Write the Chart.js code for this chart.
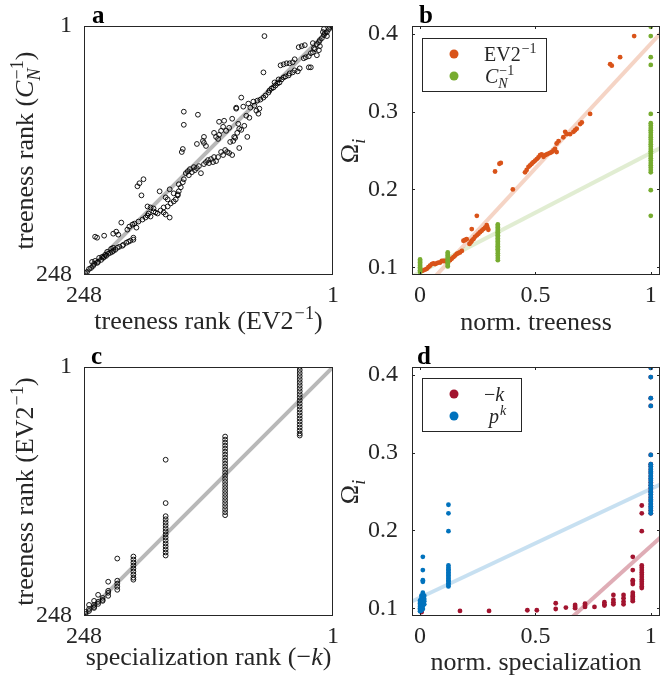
<!DOCTYPE html>
<html>
<head>
<meta charset="utf-8">
<script src="https://cdn.jsdelivr.net/npm/chart.js@4.4.1/dist/chart.umd.min.js"></script>
<style>
  body { margin: 0; background: #fff; }
  #fig { position: relative; width: 670px; height: 677px; }
  #fig canvas { position: absolute; }
</style>
</head>
<body>
<div id="fig">
  <canvas id="chartA" width="340" height="338" style="left:0;top:0"></canvas>
  <canvas id="chartB" width="330" height="338" style="left:340px;top:0"></canvas>
  <canvas id="chartC" width="340" height="337" style="left:0;top:340px"></canvas>
  <canvas id="chartD" width="330" height="337" style="left:340px;top:340px"></canvas>
</div>
<script>
// ---------------------------------------------------------------------------
// Data
// ---------------------------------------------------------------------------

// a: treeness rank EV2^-1 (x) vs treeness rank C_N^-1 (y)
const rankTicks = [248, 1];
const diagRanks = [248, 1];
const evRankA = [
  247,245,243,241,239,238,235,234,231,229,228,226,224,222,220,219,217,215,213,210,209,206,204,202,199,
  240,237,233,230,227,225,221,219,
  237,235,228,219,216,214,211,205,203,200,198,196,199,
  194,190,187,185,184,182,179,177,175,172,169,167,163,169,165,162,159,157,155,154,152,150,149,
  195,193,189,191,185,182,179,173,167,165,163,159,155,154,
  147,145,144,143,141,139,138,136,134,132,129,127,125,124,122,120,119,117,115,112,110,108,106,104,101,94,
  150,151,149,149,135,136,130,129,127,129,119,117,115,114,114,110,109,112,107,104,101,99,97,95,94,89,86,
  103,100,98,96,92,
  69,70,92,97,90,85,83,80,79,77,75,74,87,84,76,73,70,68,65,64,62,60,58,56,54,52,50,48,45,44,41,39,36,34,
  59,55,53,50,47,44,41,39,35,32,29,30,28,25,23,21,20,19,17,15,14,12,10,9,7,5,4,2,11,10,21,25,23,17,15,14,7,1
];
const cnRankA = [
  246,245,242,241,239,237,236,235,233,231,230,229,227,226,225,224,223,221,220,219,218,216,215,214,213,
  235,234,231,230,228,225,222,221,
  210,211,209,207,205,208,196,203,200,198,197,201,211,
  195,193,191,189,187,190,185,186,187,184,186,188,191,181,180,177,175,173,168,165,161,156,153,
  160,157,153,169,180,181,182,165,171,173,163,167,169,158,
  147,145,149,143,146,141,144,142,140,147,138,136,134,137,133,136,131,135,131,126,129,124,126,127,129,122,
  123,126,86,99,89,118,115,117,120,111,107,111,113,109,96,101,95,105,105,102,93,111,83,98,103,100,111,
  116,115,112,107,104,
  11,47,72,82,81,78,82,76,80,85,88,83,90,92,75,74,72,70,67,65,63,62,60,58,57,54,52,51,50,48,47,45,46,43,
  57,54,40,39,38,38,37,34,22,21,20,33,32,31,28,27,23,24,19,17,15,13,10,8,7,4,2,1,7,4,18,42,42,30,25,21,11,1
];

// b: normalised treeness vs Omega_i
const normTicks = [0, 0.5, 1];
const omegaTicks = [0.1, 0.2, 0.3, 0.4];
const evTreeness = [
  0.007,0.014,0.022,0.029,0.036,0.043,0.051,0.058,0.065,0.072,0.079,0.087,0.094,0.101,0.108,0.116,0.123,0.130,0.137,0.145,
  0.152,0.159,0.166,0.173,0.181,0.188,0.195,0.202,0.214,0.220,0.224,0.231,0.238,0.246,0.253,0.260,0.267,0.275,0.282,0.289,
  0.292,0.296,0.224,0.246,0.325,0.344,0.350,0.402,
  0.455,0.462,0.470,0.477,0.484,0.491,0.499,0.506,0.513,0.520,0.527,0.535,0.542,0.549,0.556,0.564,0.571,0.578,0.585,0.592,
  0.600,0.592,0.621,0.629,0.636,0.650,0.665,0.672,0.679,0.694,0.701,0.737,0.824,0.831,0.867,0.928
];
const evOmega = [
  0.095,0.096,0.097,0.098,0.100,0.102,0.104,0.105,0.104,0.105,0.106,0.106,0.108,0.108,0.108,0.108,0.108,0.109,0.111,0.113,
  0.115,0.117,0.118,0.119,0.121,0.134,0.135,0.136,0.130,0.132,0.134,0.136,0.139,0.141,0.143,0.145,0.147,0.149,0.151,0.154,
  0.151,0.148,0.149,0.166,0.223,0.233,0.234,0.200,
  0.222,0.225,0.229,0.231,0.233,0.235,0.237,0.239,0.241,0.244,0.245,0.242,0.244,0.245,0.246,0.247,0.248,0.250,0.252,0.259,
  0.262,0.248,0.267,0.274,0.271,0.271,0.274,0.276,0.278,0.284,0.286,0.297,0.361,0.359,0.370,0.397
];
const cnLevels = [0, 0.12, 0.337, 1];
const cnOmegaAtLevel = [
  [0.094,0.096,0.098,0.100,0.102,0.104,0.106,0.108,0.110],
  [0.101,0.103,0.105,0.107,0.109,0.111,0.113,0.115,0.117,0.119],
  [0.109,0.112,0.115,0.118,0.121,0.123,0.125,0.127,0.129,0.131,0.133,0.135,0.137,0.139,0.141,0.143,0.145,0.147,0.149,0.151,0.153,0.155],
  [0.166,0.199,0.222,0.225,0.228,0.231,0.234,0.237,0.240,0.243,0.246,0.249,0.252,0.255,0.258,0.261,0.264,0.267,0.270,0.273,0.276,0.279,0.282,0.285,0.297,0.360,0.370,0.397,0.409]
];
const evFitX = [0.065, 1.043];
const evFitY = [0.088, 0.401];
const cnFitX = [-0.035, 1.043];
const cnFitY = [0.088, 0.2534];

// c: specialization rank (-k) vs treeness rank EV2^-1
const specColumnRank = [34, 108, 167, 199, 215, 224, 229.5, 234, 238, 243, 246.5, 248];
const evRankByColumn = [
  [1,4,7,10,13,16,19,22,25,28,31,34,37,40,43,46,49,52,55,58,61,64,67,69],
  [70,73,76,79,82,85,88,91,94,97,100,103,106,109,112,115,118,121,124,127,130,133,136,139,142,145,148],
  [93,136,149,152,155,158,161,164,167,170,173,176,179,182,185,188],
  [189,192,195,198,201,204,207,210,212],
  [191,213,216,219,222],
  [214,223,225,228],
  [230,232,233],
  [227,234,236],
  [233,237,239,240],
  [237,241,243],
  [244,246],
  [248]
];

// d: normalised specialization vs Omega_i
const negKLevels = [0.007,0.173,0.299,0.465,0.506,0.588,0.632,0.672,0.715,0.756,0.799,0.838,0.882,0.922,0.961,1];
const negKOmegaAtLevel = [
  [0.095],[0.0965],[0.0965],[0.0974],[0.0974],[0.099,0.1064],[0.1008],[0.100,0.102,0.1042],[0.1017,0.104,0.106],[0.1017],
  [0.1034,0.105,0.1077],[0.1051,0.1077,0.111,0.1171],[0.1051,0.1085,0.1128,0.1171],
  [0.109,0.111,0.113,0.115,0.117,0.120,0.131,0.134,0.136,0.149,0.166],
  [0.126,0.128,0.131,0.134,0.137,0.140,0.143,0.146,0.149,0.152,0.155,0.199,0.222,0.232],
  [0.222,0.226,0.230,0.234,0.238,0.242,0.246,0.250,0.254,0.258,0.262,0.266,0.270,0.274,0.278,0.282,0.285,0.297,0.360,0.370,0.397,0.409]
];
const pkLevels = [0, 0.006, 0.012, 0.018, 0.123, 1];
const pkOmegaAtLevel = [
  [0.096,0.098,0.100,0.102,0.104,0.106,0.108,0.110],
  [0.097,0.101,0.105,0.109,0.113,0.116],
  [0.099,0.103,0.107,0.111,0.115,0.118,0.120,0.134,0.136,0.149,0.166],
  [0.105,0.109,0.112,0.116],
  [0.128,0.130,0.132,0.134,0.136,0.138,0.140,0.142,0.144,0.146,0.148,0.150,0.152,0.155,0.199,0.222,0.233],
  [0.222,0.225,0.228,0.231,0.234,0.237,0.240,0.243,0.246,0.249,0.252,0.255,0.258,0.261,0.264,0.267,0.270,0.273,0.276,0.279,0.282,0.285,0.297,0.360,0.370,0.397,0.409]
];
const negKFitX = [0.657, 1.043];
const negKFitY = [0.088, 0.1913];
const pkFitX = [-0.043, 1.043];
const pkFitY = [0.1077, 0.2594];

// ---------------------------------------------------------------------------
// Styling
// ---------------------------------------------------------------------------

const FONT   = '"Liberation Serif", "Times New Roman", serif';
const INK    = '#262626';
const ORANGE = '#D95319';
const GREEN  = '#77AC30';
const RED    = '#A2142F';
const BLUE   = '#0072BD';
const TICK_SIZE  = 24;
const TITLE_SIZE = 26;
const LEGEND_SIZE = 20;

const zip = (xs, ys) => xs.map((x, i) => ({ x, y: ys[i] }));
const columns = (levels, groups) => levels.flatMap((x, i) => groups[i].map(y => ({ x, y })));

// ---------------------------------------------------------------------------
// Text with super/subscripts
// ---------------------------------------------------------------------------

function runWidth(ctx, r, size) {
  ctx.font = (r.it ? 'italic ' : '') + size + 'px ' + FONT;
  const w = ctx.measureText(r.t || '').width;
  let s = 0;
  if (r.sup) { ctx.font = (r.supIt ? 'italic ' : '') + size * 0.7 + 'px ' + FONT; s = ctx.measureText(r.sup).width; }
  if (r.sub) { ctx.font = (r.subIt ? 'italic ' : '') + size * 0.7 + 'px ' + FONT; s = Math.max(s, ctx.measureText(r.sub).width); }
  return w + s + (r.sup || r.sub ? 1 : 0);
}

function drawRuns(ctx, runs, x, baseline, size, align) {
  ctx.save();
  ctx.fillStyle = INK;
  ctx.textAlign = 'left';
  ctx.textBaseline = 'alphabetic';
  const total = runs.reduce((s, r) => s + runWidth(ctx, r, size), 0);
  let cx = align === 'left' ? x : x - total / 2;
  runs.forEach(r => {
    ctx.font = (r.it ? 'italic ' : '') + size + 'px ' + FONT;
    ctx.fillText(r.t || '', cx, baseline);
    cx += ctx.measureText(r.t || '').width;
    let s = 0;
    if (r.sup) {
      ctx.font = (r.supIt ? 'italic ' : '') + size * 0.7 + 'px ' + FONT;
      ctx.fillText(r.sup, cx + 1, baseline - size * 0.4);
      s = ctx.measureText(r.sup).width + 1;
    }
    if (r.sub) {
      ctx.font = (r.subIt ? 'italic ' : '') + size * 0.7 + 'px ' + FONT;
      ctx.fillText(r.sub, cx, baseline + size * 0.25);
      s = Math.max(s, ctx.measureText(r.sub).width + 1);
    }
    cx += s;
  });
  ctx.restore();
}

// ---------------------------------------------------------------------------
// MATLAB-ish decorations: box, inward ticks, titles, legend, panel letter
// ---------------------------------------------------------------------------

const decorPlugin = {
  id: 'decor',
  afterDraw(chart, args, o) {
    const { ctx, chartArea: a } = chart;
    ctx.save();
    ctx.strokeStyle = INK;
    ctx.lineWidth = 1;
    ctx.strokeRect(a.left + 0.5, a.top + 0.5, a.right - a.left - 1, a.bottom - a.top - 1);
    if (o.innerTicks) {
      const len = 3;
      ctx.beginPath();
      chart.scales.x.ticks.forEach(t => {
        const px = Math.round(chart.scales.x.getPixelForValue(t.value)) + 0.5;
        ctx.moveTo(px, a.bottom); ctx.lineTo(px, a.bottom - len);
        ctx.moveTo(px, a.top);    ctx.lineTo(px, a.top + len);
      });
      chart.scales.y.ticks.forEach(t => {
        const py = Math.round(chart.scales.y.getPixelForValue(t.value)) + 0.5;
        ctx.moveTo(a.left, py);  ctx.lineTo(a.left + len, py);
        ctx.moveTo(a.right, py); ctx.lineTo(a.right - len, py);
      });
      ctx.stroke();
    }
    ctx.restore();

    // panel letter
    ctx.save();
    ctx.fillStyle = '#000';
    ctx.font = 'bold 25px ' + FONT;
    ctx.textBaseline = 'alphabetic';
    ctx.fillText(o.letter, a.left + o.letterDx, a.top - 3);
    ctx.restore();

    // axis titles
    drawRuns(ctx, o.xTitle, (a.left + a.right) / 2, a.bottom + o.xTitleDy, TITLE_SIZE, 'center');
    ctx.save();
    ctx.translate(a.left - o.yTitleDx, (a.top + a.bottom) / 2);
    ctx.rotate(-Math.PI / 2);
    drawRuns(ctx, o.yTitle, 0, 0, TITLE_SIZE, 'center');
    ctx.restore();

    // legend
    if (o.legend) {
      const L = o.legend;
      const bx = a.left + L.dx, by = a.top + L.dy;
      ctx.save();
      ctx.fillStyle = '#fff';
      ctx.fillRect(bx, by, L.w, L.h);
      ctx.strokeStyle = INK;
      ctx.lineWidth = 1;
      ctx.strokeRect(bx + 0.5, by + 0.5, L.w, L.h);
      L.items.forEach((it, i) => {
        const cy = by + L.rowY[i];
        ctx.fillStyle = it.color;
        ctx.beginPath();
        ctx.arc(bx + 32, cy, 4.5, 0, Math.PI * 2);
        ctx.fill();
        drawRuns(ctx, it.runs, bx + it.tx, cy + 7, LEGEND_SIZE, 'left');
      });
      ctx.restore();
    }
  },
};

// ---------------------------------------------------------------------------
// Scale helpers
// ---------------------------------------------------------------------------

function axis(opts) {
  const horizontal = opts.dir === 'x';
  return {
    type: 'linear',
    position: horizontal ? 'bottom' : 'left',
    min: opts.min,
    max: opts.max,
    reverse: !!opts.reverse,
    grid: { display: false },
    border: { display: false },
    ticks: {
      color: INK,
      font: { family: FONT, size: TICK_SIZE },
      padding: opts.padding,
      maxRotation: 0,
      autoSkip: false,
      callback: v => String(v),
    },
    afterBuildTicks: s => { s.ticks = opts.ticks.map(v => ({ value: v })); },
    afterFit: s => {
      if (horizontal) { s.height = opts.size; s.paddingLeft = 0; s.paddingRight = 0; }
      else { s.width = opts.size; s.paddingTop = 0; s.paddingBottom = 0; }
    },
  };
}

function baseOptions(pad, xScale, yScale, decor) {
  return {
    responsive: false,
    animation: false,
    events: [],
    layout: { padding: pad, autoPadding: false },
    plugins: { legend: { display: false }, tooltip: { enabled: false }, decor },
    scales: { x: xScale, y: yScale },
  };
}

const fitLine = (xs, ys, color, order) => ({
  data: zip(xs, ys), showLine: true, borderColor: color, borderWidth: 4,
  pointRadius: 0, order,
});

const dots = (data, color, order) => ({
  data, pointRadius: 2.4, pointBackgroundColor: color, pointBorderWidth: 0, order,
});

const rings = (data, order) => ({
  data, pointRadius: 2.4, pointBackgroundColor: 'rgba(0,0,0,0)',
  pointBorderColor: '#000', pointBorderWidth: 0.9, order,
});

// ---------------------------------------------------------------------------
// Panel a
// ---------------------------------------------------------------------------

new Chart(document.getElementById('chartA'), {
  type: 'scatter',
  data: {
    datasets: [
      rings(zip(evRankA, cnRankA), 0),
      fitLine(diagRanks, diagRanks, '#b8b8b8', 1),
    ],
  },
  plugins: [decorPlugin],
  options: baseOptions(
    { top: 26, right: 7, left: 0, bottom: 0 },
    axis({ dir: 'x', min: 1, max: 248, reverse: true, ticks: rankTicks, size: 63, padding: -2 }),
    axis({ dir: 'y', min: 1, max: 248, reverse: true, ticks: rankTicks, size: 84, padding: 4 }),
    {
      letter: 'a', letterDx: 8, xTitleDy: 54, yTitleDx: 51,
      xTitle: [{ t: 'treeness rank (EV2', sup: '\u22121' }, { t: ')' }],
      yTitle: [{ t: 'treeness rank (' }, { t: 'C', it: true, sub: 'N', subIt: true, sup: '\u22121' }, { t: ')' }],
    }
  ),
});

// ---------------------------------------------------------------------------
// Panel b
// ---------------------------------------------------------------------------

new Chart(document.getElementById('chartB'), {
  type: 'scatter',
  data: {
    datasets: [
      dots(zip(evTreeness, evOmega), ORANGE, 1),
      dots(columns(cnLevels, cnOmegaAtLevel), GREEN, 0),
      fitLine(evFitX, evFitY, 'rgba(217,83,25,0.25)', 2),
      fitLine(cnFitX, cnFitY, 'rgba(119,172,48,0.22)', 3),
    ],
  },
  plugins: [decorPlugin],
  options: baseOptions(
    { top: 26, right: 10, left: 0, bottom: 0 },
    axis({ dir: 'x', min: -0.035, max: 1.04, ticks: normTicks, size: 63, padding: -2 }),
    axis({ dir: 'y', min: 0.09, max: 0.41, ticks: omegaTicks, size: 72, padding: 6 }),
    {
      letter: 'b', letterDx: 7, xTitleDy: 55, yTitleDx: 54, innerTicks: true,
      xTitle: [{ t: 'norm. treeness' }],
      yTitle: [{ t: '\u03A9', sub: 'i', subIt: true }],
      legend: {
        dx: 10, dy: 12, w: 124, h: 53, rowY: [16, 38],
        items: [
          { color: ORANGE, tx: 62, runs: [{ t: 'EV2', sup: '\u22121' }] },
          { color: GREEN, tx: 63, runs: [{ t: 'C', it: true, sub: 'N', subIt: true, sup: '\u22121' }] },
        ],
      },
    }
  ),
});

// ---------------------------------------------------------------------------
// Panel c
// ---------------------------------------------------------------------------

new Chart(document.getElementById('chartC'), {
  type: 'scatter',
  data: {
    datasets: [
      rings(columns(specColumnRank, evRankByColumn), 0),
      fitLine(diagRanks, diagRanks, '#b8b8b8', 1),
    ],
  },
  plugins: [decorPlugin],
  options: baseOptions(
    { top: 27, right: 7, left: 0, bottom: 0 },
    axis({ dir: 'x', min: 1, max: 248, reverse: true, ticks: rankTicks, size: 61, padding: -2 }),
    axis({ dir: 'y', min: 1, max: 248, reverse: true, ticks: rankTicks, size: 84, padding: 4 }),
    {
      letter: 'c', letterDx: 7, xTitleDy: 49, yTitleDx: 51,
      xTitle: [{ t: 'specialization rank (\u2212' }, { t: 'k', it: true }, { t: ')' }],
      yTitle: [{ t: 'treeness rank (EV2', sup: '\u22121' }, { t: ')' }],
    }
  ),
});

// ---------------------------------------------------------------------------
// Panel d
// ---------------------------------------------------------------------------

new Chart(document.getElementById('chartD'), {
  type: 'scatter',
  data: {
    datasets: [
      dots(columns(negKLevels, negKOmegaAtLevel), RED, 1),
      dots(columns(pkLevels, pkOmegaAtLevel), BLUE, 0),
      fitLine(negKFitX, negKFitY, 'rgba(162,20,47,0.35)', 2),
      fitLine(pkFitX, pkFitY, 'rgba(0,114,189,0.22)', 3),
    ],
  },
  plugins: [decorPlugin],
  options: baseOptions(
    { top: 27, right: 10, left: 0, bottom: 0 },
    axis({ dir: 'x', min: -0.035, max: 1.04, ticks: normTicks, size: 61, padding: -2 }),
    axis({ dir: 'y', min: 0.09, max: 0.41, ticks: omegaTicks, size: 72, padding: 6 }),
    {
      letter: 'd', letterDx: 5, xTitleDy: 54, yTitleDx: 54, innerTicks: true,
      xTitle: [{ t: 'norm. specialization' }],
      yTitle: [{ t: '\u03A9', sub: 'i', subIt: true }],
      legend: {
        dx: 10, dy: 11, w: 99, h: 53, rowY: [16, 38],
        items: [
          { color: RED, tx: 62, runs: [{ t: '\u2212' }, { t: 'k', it: true }] },
          { color: BLUE, tx: 67, runs: [{ t: 'p', it: true, sup: 'k', supIt: true }] },
        ],
      },
    }
  ),
});
</script>
</body>
</html>
